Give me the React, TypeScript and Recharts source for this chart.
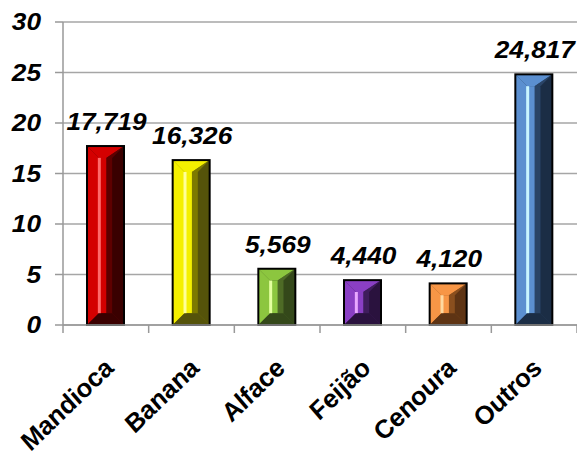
import React from 'react';
import { BarChart, Bar, XAxis, YAxis, CartesianGrid, LabelList } from 'recharts';

const categories = ['Mandioca', 'Banana', 'Alface', 'Feijão', 'Cenoura', 'Outros'];
const values = [17.719, 16.326, 5.569, 4.44, 4.12, 24.817];
const valueLabels = ['17,719', '16,326', '5,569', '4,440', '4,120', '24,817'];
const yTicks = [0, 5, 10, 15, 20, 25, 30];

// light, base, dark, darker
const palette = [
  ['#ff6a6a', '#d40000', '#5e0000', '#3a0000'],
  ['#ffff99', '#f5f000', '#7d7a00', '#55530a'],
  ['#e4ffa0', '#8cc63f', '#4e6b26', '#34481a'],
  ['#e8a8ff', '#8a3fc4', '#3f1d5c', '#2a123e'],
  ['#ffd9a0', '#f79646', '#8a4f1e', '#5e3414'],
  ['#c8f4ff', '#5b8fd0', '#2a4466', '#1b2d45'],
];

const data = categories.map((name, i) => ({ name, value: values[i], label: valueLabels[i] }));

const font = 'Arial, "Liberation Sans", sans-serif';
const SX = 1.14; // text in the source is a bit stretched sideways

const BevelBar = (props: any) => {
  const { x, y, width: w, height: h, payload } = props;
  if (h <= 0) return null;
  const idx = categories.indexOf(payload?.name);
  const [light, base, dark, darker] = palette[idx < 0 ? 0 : idx];
  const b = Math.min(w * 0.32, h / 2);
  const mid = x + w * 0.52;
  return (
    <g>
      <rect x={x} y={y} width={w} height={h} fill={dark} />
      <rect x={x + b} y={y + b} width={mid - x - b} height={Math.max(h - 2 * b, 0)} fill={base} />
      <polygon points={`${x},${y} ${x + w},${y} ${mid},${y + b} ${x + b},${y + b}`} fill={base} />
      <polygon points={`${x + w},${y} ${x + w - b},${y + b} ${mid},${y + b}`} fill={dark} />
      <polygon points={`${x},${y} ${x + b},${y + b} ${x + b},${y + h - b} ${x},${y + h}`} fill={base} />
      <polygon points={`${x + w},${y} ${x + w},${y + h} ${x + w - b},${y + h - b} ${x + w - b},${y + b}`} fill={darker} />
      <polygon points={`${x},${y + h} ${x + w},${y + h} ${x + w - b},${y + h - b} ${x + b},${y + h - b}`} fill={darker} />
      <rect x={x + b - 1} y={y + b} width={3} height={Math.max(h - 2 * b, 0)} fill={light} />
      <rect x={x} y={y} width={w} height={h} fill="none" stroke="#000" strokeWidth={2} />
    </g>
  );
};

const textStyle = {
  fontFamily: font,
  fontWeight: 'bold' as const,
  fontStyle: 'italic' as const,
  fontSize: 23,
  fill: '#000',
};

const CategoryTick = (props: any) => {
  const { x, y, payload } = props;
  const off = payload?.offset ?? 42.8;
  const isLast = payload?.value === categories[categories.length - 1];
  const ax = x + 10;
  const ay = y + 36;
  return (
    <g>
      <line x1={x - off} y1={y - 8} x2={x - off} y2={y} stroke="#999" strokeWidth={1.5} />
      {isLast && <line x1={x + off} y1={y - 8} x2={x + off} y2={y} stroke="#999" strokeWidth={1.5} />}
      <text
        x={0}
        y={0}
        textAnchor="end"
        transform={`translate(${ax} ${ay}) scale(${SX} 1) rotate(-48)`}
        {...textStyle}
        fontSize={24}
      >
        {payload.value}
      </text>
    </g>
  );
};

const YTick = (props: any) => {
  const { x, y, payload } = props;
  return (
    <text
      x={0}
      y={0}
      dy="0.355em"
      textAnchor="end"
      transform={`translate(${x} ${y}) scale(${SX} 1)`}
      {...textStyle}
    >
      {payload.value}
    </text>
  );
};

const ValueLabel = (props: any) => {
  const { x, y, width, index } = props;
  return (
    <text
      x={0}
      y={0}
      textAnchor="middle"
      transform={`translate(${x + width / 2 + 1} ${y - 16}) scale(${SX} 1)`}
      {...textStyle}
    >
      {valueLabels[index]}
    </text>
  );
};

export default function App() {
  return (
    <div style={{ position: 'absolute', left: 0, top: 0, width: 577, height: 455, background: '#fff' }}>
      <BarChart
        width={577}
        height={455}
        data={data}
        margin={{ top: 22, right: 0, left: 0, bottom: 0 }}
        barSize={37}
      >
        <CartesianGrid vertical={false} stroke="#a6a6a6" strokeWidth={1.5} />
        <XAxis
          dataKey="name"
          height={130}
          interval={0}
          tickLine={false}
          axisLine={{ stroke: '#999', strokeWidth: 1.5 }}
          tick={<CategoryTick />}
        />
        <YAxis
          domain={[0, 30]}
          ticks={yTicks}
          width={63}
          tickSize={8}
          tickMargin={14}
          tickLine={{ stroke: '#999', strokeWidth: 1.5 }}
          axisLine={{ stroke: '#999', strokeWidth: 1.5 }}
          tick={<YTick />}
        />
        <Bar dataKey="value" shape={<BevelBar />} isAnimationActive={false}>
          <LabelList dataKey="label" content={<ValueLabel />} />
        </Bar>
      </BarChart>
    </div>
  );
}
